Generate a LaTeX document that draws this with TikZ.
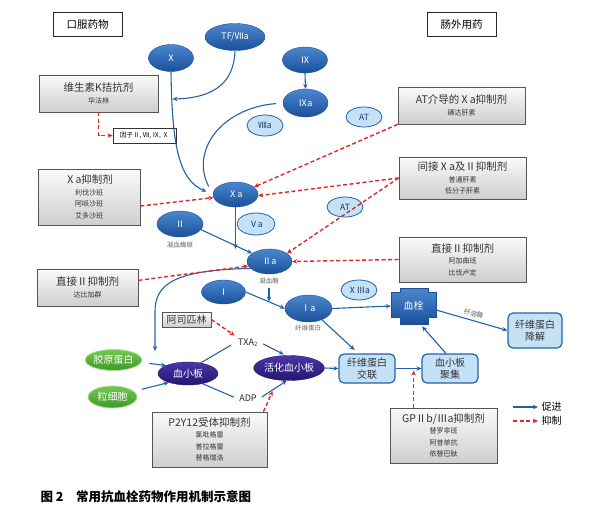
\documentclass[tikz,border=0pt]{standalone}
\usepackage{fontspec}
\setmainfont{Noto Sans CJK SC}
\usepackage{tikz}
\usetikzlibrary{positioning, arrows.meta, shapes.geometric, calc}
\definecolor{deepblue}{HTML}{1B4F9A}
\definecolor{midblue}{HTML}{4A88CF}
\definecolor{paleblue}{HTML}{C4E1F6}
\definecolor{lineblue}{HTML}{2462A8}
\definecolor{inhibred}{HTML}{E02828}
\definecolor{deeppurple}{HTML}{24166F}
\definecolor{midpurple}{HTML}{4B36A6}
\definecolor{leafgreen}{HTML}{3E9A2A}
\definecolor{lightgreen}{HTML}{74C84F}
\definecolor{boxgray}{HTML}{555555}
\newcommand{\drugtitle}[1]{{\fontsize{10.5}{12}\selectfont #1}}

\begin{document}
\begin{tikzpicture}[x=1pt, y=-1pt,
  factor/.style={ellipse, inner sep=0pt, draw=deepblue, top color=midblue, bottom color=deepblue,
                 text=white, font=\fontsize{9}{10}\selectfont},
  cofactor/.style={ellipse, inner sep=0pt, draw=lineblue, line width=0.8pt, fill=paleblue,
                   text=deepblue!70!black, font=\fontsize{8.5}{10}\selectfont},
  cellnode/.style={ellipse, inner sep=0pt, draw=deeppurple, top color=midpurple, bottom color=deeppurple,
                   text=white, font=\fontsize{10}{12}\selectfont},
  stimnode/.style={ellipse, inner sep=0pt, draw=lightgreen!60!white, line width=0.8pt,
                   top color=lightgreen, bottom color=leafgreen, text=white, font=\fontsize{10}{12}\selectfont},
  drugbox/.style={draw=boxgray, line width=0.8pt, top color=gray!4, bottom color=gray!38, align=center,
                  inner sep=2pt, text=black!80, font=\fontsize{7}{11.5}\selectfont},
  headbox/.style={draw=black!85, line width=1pt, fill=white, minimum width=69pt, minimum height=24pt,
                  font=\fontsize{10.5}{12}\selectfont},
  stagebox/.style={draw=lineblue, line width=1.2pt, fill=paleblue, rounded corners=5pt, align=center,
                   minimum width=56pt, minimum height=29pt, text=black!80, font=\fontsize{10}{12}\selectfont},
  sublabel/.style={text=black!60, font=\fontsize{6.5}{8}\selectfont},
  promote/.style={draw=lineblue, line width=1.1pt, -{Stealth[length=5pt, width=4.5pt]}},
  inhibit/.style={draw=inhibred, line width=1.4pt, dash pattern=on 4pt off 2.5pt, -{Stealth[length=5pt, width=4.5pt]}}
]
\useasboundingbox (0,0) rectangle (615,519);

% route headers
\node[headbox] (oral) at (87.5,25) {口服药物};
\node[headbox] (parent) at (461.5,25) {肠外用药};

% coagulation cascade
\node[factor, minimum width=60pt, minimum height=27pt] (tf) at (235,37) {TF/Ⅶa};
\node[factor, minimum width=45pt, minimum height=27pt] (fx) at (171,58) {Ⅹ};
\node[factor, minimum width=45pt, minimum height=26pt] (f9) at (305,60) {Ⅸ};
\node[factor, minimum width=45pt, minimum height=28pt] (f9a) at (305.5,103) {Ⅸa};
\node[cofactor, minimum width=36pt, minimum height=21pt] (f8a) at (265,125.5) {Ⅷa};
\node[cofactor, minimum width=36pt, minimum height=20pt] (at1) at (364,117) {AT};
\node[factor, minimum width=45pt, minimum height=25pt] (fxa) at (235.5,194.5) {Ⅹa};
\node[factor, minimum width=46pt, minimum height=26pt] (f2) at (180,224) {Ⅱ};
\node[sublabel] (f2lbl) at (180,245) {凝血酶原};
\node[cofactor, minimum width=38pt, minimum height=22pt] (f5a) at (256,224) {Ⅴa};
\node[cofactor, minimum width=36pt, minimum height=20pt] (at2) at (345,207) {AT};
\node[factor, minimum width=45pt, minimum height=25pt] (f2a) at (269.5,261.5) {Ⅱa};
\node[sublabel] (f2albl) at (269,281) {凝血酶};
\node[factor, minimum width=44pt, minimum height=24pt] (f1) at (223.5,292) {Ⅰ};
\node[factor, minimum width=47pt, minimum height=27pt] (f1a) at (308.5,308.5) {Ⅰa};
\node[sublabel] (f1albl) at (308,328) {纤维蛋白};
\node[cofactor, minimum width=36pt, minimum height=20pt] (f13a) at (359,290) {ⅩⅢa};

% thrombus
\shade[top color=midblue, bottom color=deepblue, draw=deepblue, line width=0.4pt]
  (400,288) -- (428,288) -- (428,292) -- (436,292) -- (436,317) -- (428,317) -- (428,324)
  -- (400,324) -- (400,317) -- (391,317) -- (391,292) -- (400,292) -- cycle;
\node[minimum width=45pt, minimum height=36pt, text=white, font=\fontsize{10}{12}\selectfont] (thrombus) at (413.5,306) {血栓};
\node[stagebox, minimum width=54pt, minimum height=35pt] (lysis) at (535,330.5) {纤维蛋白\\降解};
\node[stagebox] (crosslink) at (367,368.5) {纤维蛋白\\交联};
\node[stagebox] (aggr) at (450,368.5) {血小板\\聚集};

% platelets
\node[stimnode, minimum width=51pt, minimum height=21pt] (collagen) at (113.5,360) {胶原蛋白};
\node[stimnode, minimum width=49pt, minimum height=22pt] (gran) at (112.5,397) {粒细胞};
\node[cellnode, minimum width=60pt, minimum height=23pt] (plt) at (188,373.5) {血小板};
\node[cellnode, minimum width=68pt, minimum height=25pt] (actplt) at (289,368) {活化血小板};
\node[text=black!85, font=\fontsize{9}{10}\selectfont] (txa) at (248,343) {TXA\textsubscript{2}};
\node[text=black!85, font=\fontsize{9}{10}\selectfont] (adp) at (248,398) {ADP};

% drugs
\node[drugbox, minimum width=119pt, minimum height=37pt] (vka) at (98.5,93.5) {\drugtitle{维生素K拮抗剂}\\华法林};
\node[draw=black!80, line width=0.6pt, fill=white, inner sep=1.5pt, minimum width=63pt, minimum height=15pt,
      font=\fontsize{6.5}{8}\selectfont] (factors) at (144.5,135.5) {因子Ⅱ, Ⅶ, Ⅸ, Ⅹ};
\node[drugbox, minimum width=127pt, minimum height=37pt] (atxa) at (461.5,105.5) {\drugtitle{AT介导的Ⅹa抑制剂}\\磺达肝素};
\node[drugbox, minimum width=102pt, minimum height=56pt] (xai) at (89,197) {\drugtitle{Ⅹa抑制剂}\\利伐沙班\\阿哌沙班\\艾多沙班};
\node[drugbox, minimum width=127pt, minimum height=42pt] (indirect) at (462.5,178) {\drugtitle{间接Ⅹa及Ⅱ抑制剂}\\普通肝素\\低分子肝素};
\node[drugbox, minimum width=101pt, minimum height=37pt] (dti1) at (87.5,287.5) {\drugtitle{直接Ⅱ抑制剂}\\达比加群};
\node[drugbox, minimum width=127pt, minimum height=45pt] (dti2) at (462.5,259.5) {\drugtitle{直接Ⅱ抑制剂}\\阿加曲班\\比伐卢定};
\node[drugbox, minimum width=49pt, minimum height=15pt, inner sep=1pt, font=\fontsize{10}{12}\selectfont] (asp) at (186.5,319.5) {阿司匹林};
\node[drugbox, minimum width=115pt, minimum height=55pt] (p2y) at (209.5,439.5) {\drugtitle{P2Y12受体抑制剂}\\氯吡格雷\\普拉格雷\\替格瑞洛};
\node[drugbox, minimum width=107pt, minimum height=55pt] (gp) at (443.5,435.5) {\drugtitle{GPⅡb/Ⅲa抑制剂}\\替罗非班\\阿昔单抗\\依替巴肽};

% legend
\node[anchor=west, font=\fontsize{10}{12}\selectfont] (promlbl) at (538,407) {促进};
\node[anchor=west, font=\fontsize{10}{12}\selectfont] (inhlbl) at (538,421) {抑制};
\draw[promote] ($(promlbl.west)+(-25,0)$) -- (promlbl.west);
\draw[inhibit] ($(inhlbl.west)+(-25,0)$) -- (inhlbl.west);

% promoting paths
\coordinate (fxjoin) at (172.5,99);
\coordinate (pltin) at (155,351);
\draw[promote] (fx.south) .. controls (172,150) and (180,180) .. (fxa.west) [shorten >=7pt];
\draw[promote] (tf.south) .. controls (234,82) and (215,98) .. (fxjoin);
\draw[promote, -] (f9a.west) [shorten <=7pt, shorten >=9pt] .. controls (222,108) and (190,150) .. (fxa.west);
\draw[promote] (f9.south) -- (f9a.north);
\draw[promote] (fxa.south) -- (fxa.south |- f2a.north);
\draw[promote] (f2.-15) -- (f2a.155);
\draw[promote] (f2a.200) .. controls (172,270) and (155,285) .. (155,312) -- (pltin);
\draw[promote] (f2albl.south) -- ++(0,14);
\draw[promote] (f1.east) -- (f1a.west);
\draw[promote] (f1a.east) -- (thrombus.west);
\draw[promote] (thrombus.-10) -- node[sloped, above, pos=0.5, text=black!65, font=\fontsize{6.5}{8}\selectfont] (plasmin) {纤溶酶} (lysis.west);
\draw[promote, shorten >=5pt] (f1a.-40) -- (crosslink.120);
\draw[promote] (actplt.east) -- (crosslink.west);
\draw[promote] (crosslink.east) -- coordinate[pos=0.7] (gpin) (aggr.west);
\draw[promote, shorten >=3pt] (aggr.105) -- (thrombus.-70);
\draw[promote, shorten <=8pt] (collagen.-5) -- (plt.160);
\draw[promote, shorten <=8pt] (gran.15) -- (plt.205);
\draw[promote, -, shorten >=4pt] (plt.40) -- (txa.west);
\draw[promote, shorten <=2pt, shorten >=2pt] (txa.east) -- (actplt.105);
\draw[promote, -, shorten >=2pt] (plt.-35) -- (adp.west);
\draw[promote, shorten <=2pt] (adp.east) -- coordinate[pos=0.5] (adpin) (actplt.-100);

% inhibiting paths
\draw[inhibit] (vka.south) |- (factors.west);
\draw[inhibit] (atxa.south west) -- (fxa.22);
\draw[inhibit] (indirect.west) -- (fxa.-3);
\draw[inhibit] (indirect.west) -- (f2a.25);
\draw[inhibit] (dti2.west) -- (f2a.east);
\draw[inhibit] (xai.350) -- (fxa.188);
\draw[inhibit] (dti1.8) -- (f2a.192);
\draw[inhibit] (asp.east) -- (txa.north west);
\draw[inhibit, shorten >=2pt] ($(p2y.north east)+(-4,0)$) -- (adpin);
\draw[inhibit, shorten >=2pt] (gpin |- gp.north) -- (gpin);

% caption
\node[anchor=west, font=\fontsize{12.5}{14}\bfseries\selectfont] (caption) at (37,497) {图 2\quad 常用抗血栓药物作用机制示意图};
\end{tikzpicture}
\end{document}
